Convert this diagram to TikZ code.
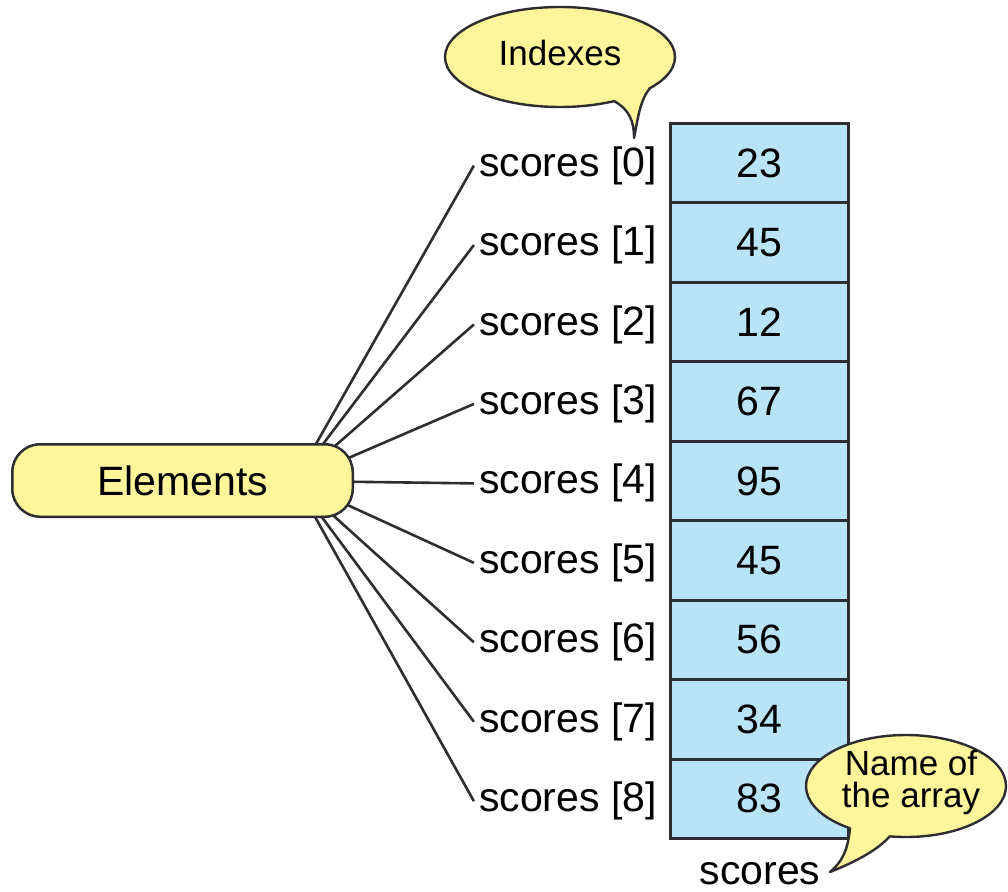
\documentclass[tikz,border=0pt]{standalone}
\usepackage{fontspec}
\setmainfont{Liberation Sans}
\pgfdeclarelayer{background}
\pgfsetlayers{background,main}
\definecolor{cyel}{RGB}{255,245,155}
\definecolor{cblue}{RGB}{185,228,248}
\definecolor{cline}{RGB}{45,45,50}
\begin{document}
\begin{tikzpicture}[x=1pt,y=-1pt,
  big/.style={font=\fontsize{41}{46}\selectfont},
  mid/.style={font=\fontsize{35}{32}\selectfont},
  cell/.style={big, draw=cline, fill=cblue, line width=3pt, minimum width=178pt, minimum height=79.44pt, inner sep=0pt},
  lab/.style={big, anchor=base east, inner sep=0pt},
  conn/.style={draw=cline, line width=2.6pt},
  balloon/.style={fill=cyel},
  balloonline/.style={draw=cline, line width=2.4pt, line join=round},
  elem/.style={big, draw=cline, fill=cyel, line width=2.5pt, rounded corners=28pt, minimum width=340.5pt, minimum height=72.5pt, inner sep=0pt}]
\useasboundingbox (0,0) rectangle (1008,891);
\begin{pgfonlayer}{background}
\fill[white] (0,0) rectangle (1008,891);
\end{pgfonlayer}
% array cells and index labels
\foreach \v [count=\i from 0] in {23,45,12,67,95,45,56,34,83} {
  \pgfmathsetmacro\yc{123.5+79.44*(\i+0.5)}
  \node[cell] (c\i) at (759.5,\yc) {\v};
  \node[lab] (l\i) at (657,\yc+13) {scores [\i]};
}
\node[big, anchor=base, inner sep=0pt] (name) at (760,884) {scores};
% Elements
\node[elem] (el) at (182.5,480.5) {Elements};
\coordinate (hub) at (295,481);
\begin{pgfonlayer}{background}
\foreach \i in {0,...,8} {
  \draw[conn] (hub) -- ([xshift=-5pt]l\i.west);
}
\end{pgfonlayer}
% Indexes balloon
\filldraw[balloon, balloonline] (560,57) ellipse [x radius=115pt, y radius=50pt];
\fill[cyel] (614,101) .. controls (630,110) and (634,122) .. (634,138) .. controls (638,118) and (640,100) .. (650,88) -- (625,80) -- cycle;
\draw[balloonline] (614,101) .. controls (630,110) and (634,122) .. (634,138) .. controls (638,118) and (640,100) .. (650,88);
\node[mid, inner sep=0pt] (idx) at (560,53) {Indexes};
% Name of the array balloon
\filldraw[balloon, balloonline] (906,786) ellipse [x radius=100pt, y radius=51pt];
\fill[cyel] (850,828) .. controls (848,850) and (842,862) .. (830,872) .. controls (855,862) and (878,850) .. (890,836) -- (870,815) -- cycle;
\draw[balloonline] (850,828) .. controls (848,850) and (842,862) .. (830,872) .. controls (855,862) and (878,850) .. (890,836);
\node[mid, inner sep=0pt, align=center] (noa) at (911,782) {Name of\\the array};
\end{tikzpicture}
\end{document}
